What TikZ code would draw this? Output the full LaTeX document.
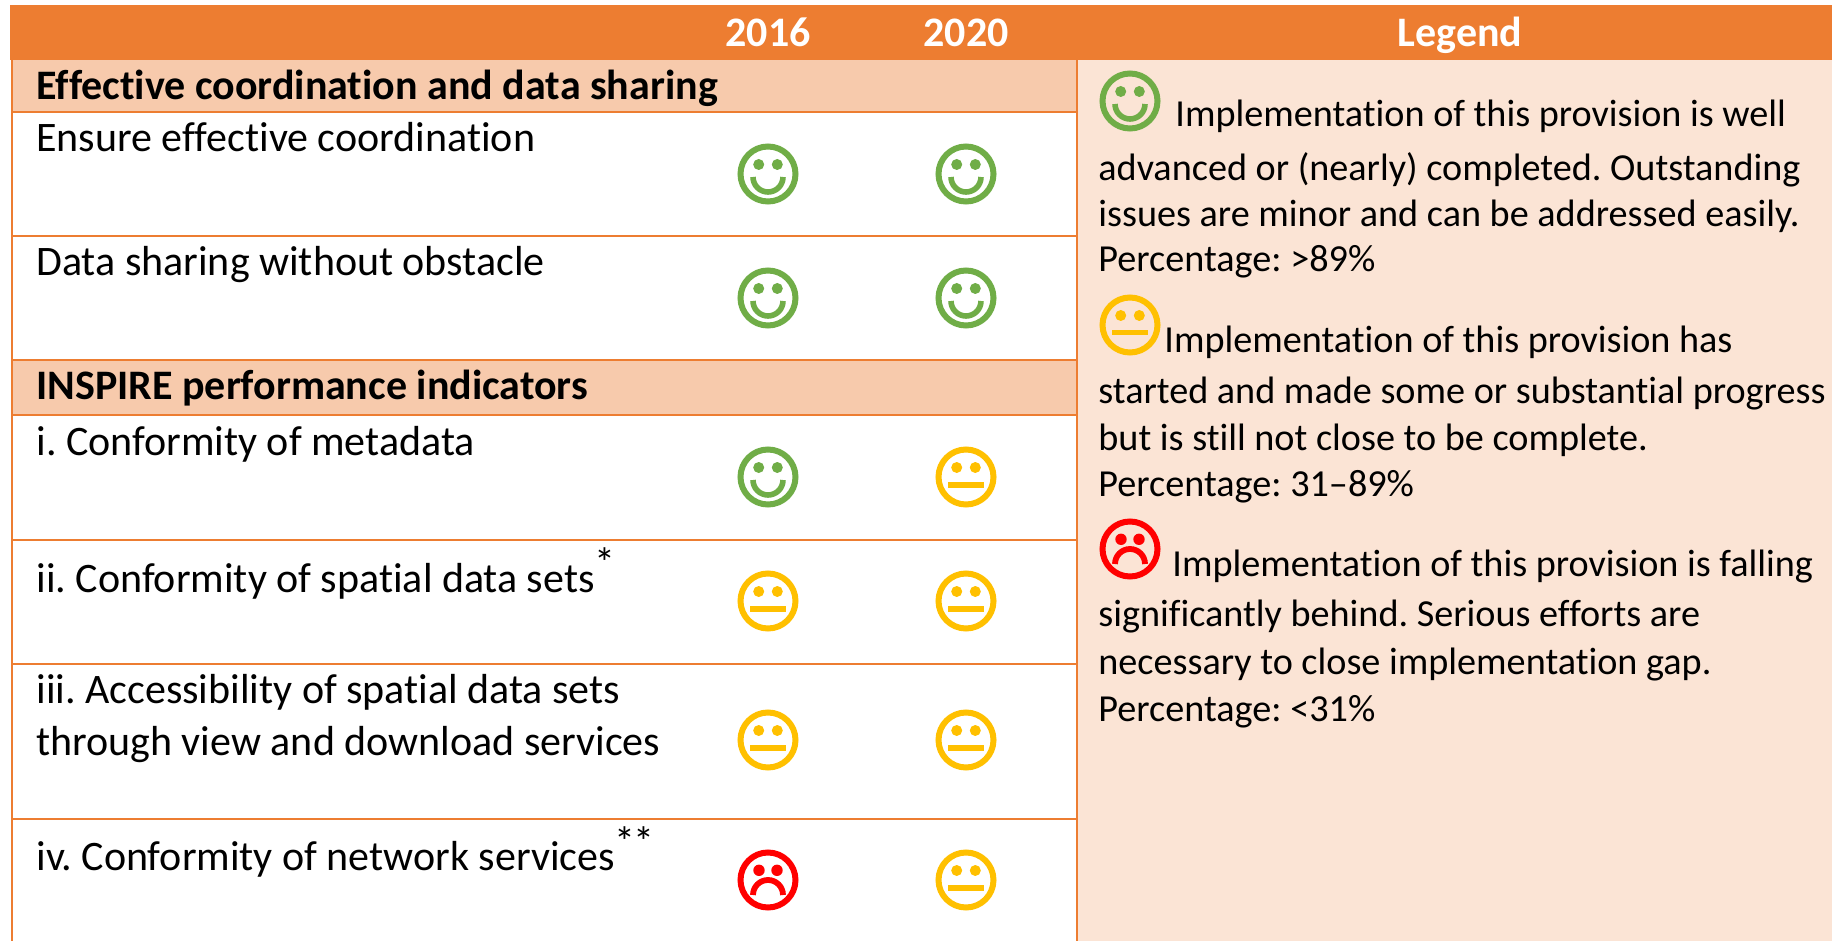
\documentclass[tikz,border=0pt]{standalone}
\usepackage{fontspec}
\setmainfont{Carlito}[Ligatures={NoCommon,NoContextual}]
\frenchspacing
\definecolor{hdr}{HTML}{ED7D31}
\definecolor{subh}{HTML}{F7CAAC}
\definecolor{legbg}{HTML}{FBE4D5}
\definecolor{fgreen}{HTML}{70AD47}
\definecolor{fyellow}{HTML}{FFC000}
\definecolor{fred}{HTML}{FF0000}
\tikzset{
  txt/.style={font=\fontsize{21pt}{26pt}\selectfont, inner sep=0pt, anchor=base west},
  btxt/.style={font=\fontsize{21pt}{26pt}\selectfont\bfseries, inner sep=0pt, anchor=base west},
  hd/.style={font=\fontsize{21pt}{26pt}\selectfont\bfseries, text=white, inner sep=0pt, anchor=base},
  leg/.style={font=\fontsize{19.1pt}{23.5pt}\selectfont, inner sep=0pt, anchor=base west},
  grid/.style={draw=hdr, line width=1.3pt},
  pics/happy/.style={code={
    \draw[line width=3pt] (0,0) circle[radius=27.5];
    \fill (-9.3,-9.5) circle[radius=5.5];
    \fill (9.3,-9.5) circle[radius=5.5];
    \draw[line width=2.8pt] (-15,3) arc[start angle=180,end angle=0,radius=15];
  }},
  pics/neutral/.style={code={
    \draw[line width=3pt] (0,0) circle[radius=27.5];
    \fill (-9.3,-9.5) circle[radius=5.5];
    \fill (9.3,-9.5) circle[radius=5.5];
    \fill (-17.7,5) rectangle (17.7,10.5);
  }},
  pics/sad/.style={code={
    \draw[line width=3pt] (0,0) circle[radius=27.5];
    \fill (-9,-9.7) circle[radius=5.7];
    \fill (9,-9.7) circle[radius=5.7];
    \draw[line width=2.9pt] (-15,15) arc[start angle=180,end angle=360,radius=15];
  }}
}
\begin{document}
\begin{tikzpicture}[x=0.5pt,y=-0.5pt]
\useasboundingbox (0,0) rectangle (1832,941);
\fill[white] (0,0) rectangle (1832,941);
% backgrounds
\fill[hdr] (10,5) rectangle (1832,60);
\fill[legbg] (1077,60) rectangle (1832,941);
\fill[subh] (12,60) rectangle (1077,112);
\fill[subh] (12,360) rectangle (1077,415);
% grid lines
\draw[grid] (12,60) -- (12,941);
\draw[grid] (1077,60) -- (1077,941);
\foreach \yy in {112,236,360,415,540,664,819} \draw[grid] (12,\yy) -- (1077,\yy);
% header
\node[hd] (h16) at (768,47) {2016};
\node[hd] (h20) at (966,47) {2020};
\node[hd] (hleg) at (1460,47) {Legend};
% table text
\node[btxt] (s1) at (36,100) {Effective coordination and data sharing};
\node[txt] (r1) at (36,152) {Ensure effective coordination};
\node[txt] (r2) at (36,276) {Data sharing without obstacle};
\node[btxt] (s2) at (36,400) {INSPIRE performance indicators};
\node[txt] (ri) at (36,455) {i. Conformity of metadata};
\node[txt] (rii) at (36,592) {ii. Conformity of spatial data sets\raisebox{7.5pt}{*}};
\node[txt] (riiia) at (36,703) {iii. Accessibility of spatial data sets};
\node[txt] (riiib) at (36,755) {through view and download services};
\node[txt] (riv) at (36,870) {iv. Conformity of network services\raisebox{7pt}{*\kern-1pt*}};
% faces in table
\pic[color=fgreen] at (768,174) {happy};
\pic[color=fgreen] at (966,174) {happy};
\pic[color=fgreen] at (768,298) {happy};
\pic[color=fgreen] at (966,298) {happy};
\pic[color=fgreen] at (768,477) {happy};
\pic[color=fyellow] at (966,477) {neutral};
\pic[color=fyellow] at (768,601) {neutral};
\pic[color=fyellow] at (966,601) {neutral};
\pic[color=fyellow] at (768,740) {neutral};
\pic[color=fyellow] at (966,740) {neutral};
\pic[color=fred] at (768,880) {sad};
\pic[color=fyellow] at (966,880) {neutral};
% legend
\pic[color=fgreen] at (1130,101) {happy};
\node[leg] (la1) at (1175,127) {Implementation of this provision is well};
\node[leg] (la2) at (1098,181) {advanced or (nearly) completed. Outstanding};
\node[leg] (la3) at (1098,227) {issues are minor and can be addressed easily.};
\node[leg] (la4) at (1098,272) {Percentage: >89\%};
\pic[color=fyellow] at (1130,325) {neutral};
\node[leg] (lb1) at (1164,353) {Implementation of this provision has};
\node[leg] (lb2) at (1098,403) {started and made some or substantial progress};
\node[leg] (lb3) at (1098,451) {but is still not close to be complete.};
\node[leg] (lb4) at (1098,496) {Percentage: 31–89\%};
\pic[color=fred] at (1130,549) {sad};
\node[leg] (lc1) at (1172,576) {Implementation of this provision is falling};
\node[leg] (lc2) at (1098,626) {significantly behind. Serious efforts are};
\node[leg] (lc3) at (1098,674) {necessary to close implementation gap.};
\node[leg] (lc4) at (1098,721) {Percentage: <31\%};
\end{tikzpicture}
\end{document}
